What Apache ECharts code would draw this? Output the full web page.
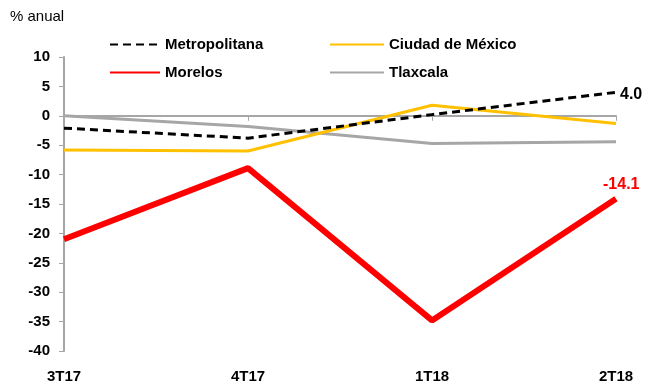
<!DOCTYPE html>
<html><head><meta charset="utf-8">
<script src="https://cdn.jsdelivr.net/npm/echarts@6/dist/echarts.min.js"></script>
<style>html,body{margin:0;padding:0;background:#fff}#c{width:648px;height:386px}</style>
</head><body><div id="c"></div>
<script>
const categories = ['3T17','4T17','1T18','2T18'];
const metropolitana = [-2.1, -3.8, 0.2, 4.0];
const cdmx = [-5.8, -6.0, 1.8, -1.3];
const morelos = [-21.0, -8.9, -34.8, -14.1];
const tlaxcala = [0.0, -1.8, -4.7, -4.4];
const yTicks = {min: -40, max: 10, interval: 5};

const FONT = "'Liberation Sans',Arial,sans-serif";
const FS = 15;
const chart = echarts.init(document.getElementById('c'), null, {renderer: 'canvas'});
const endLbl = (color, off, fs) => ({
  show: true, formatter: p => Number(p.value).toFixed(1), offset: off,
  color: color, fontFamily: FONT, fontWeight: 'bold', fontSize: fs
});
const legendText = {fontFamily: FONT, fontWeight: 'bold', fontSize: FS, color: '#000'};
const legItem = {opacity: 0};
chart.setOption({
  animation: false,
  textStyle: {fontFamily: FONT},
  graphic: [{type: 'text', left: 10, top: 9, style: {text: '% anual', font: "15px " + FONT, fill: '#000'}}],
  legend: [
    {data: ['Metropolitana'], left: 104, top: 32, itemWidth: 50, itemHeight: 14, itemGap: 10, itemStyle: legItem, textStyle: legendText},
    {data: ['Ciudad de México'], left: 324, top: 32, itemWidth: 54, itemHeight: 14, itemStyle: legItem, textStyle: legendText},
    {data: ['Morelos'], left: 104, top: 60, itemWidth: 50, itemHeight: 14, itemStyle: legItem, textStyle: legendText},
    {data: ['Tlaxcala'], left: 324, top: 60, itemWidth: 54, itemHeight: 14, itemStyle: legItem, textStyle: legendText}
  ],
  grid: {left: 64, right: 32, top: 57, bottom: 35},
  xAxis: [
    {type: 'category', data: categories, boundaryGap: false,
     axisLine: {onZero: true, lineStyle: {color: '#a6a6a6', width: 2}},
     axisTick: {show: true, inside: false, length: 5, alignWithLabel: true, lineStyle: {color: '#a6a6a6', width: 1}},
     axisLabel: {show: false}, splitLine: {show: false}},
    {type: 'category', data: categories, boundaryGap: false, position: 'bottom',
     axisLine: {show: false}, axisTick: {show: false},
     axisLabel: {show: true, color: '#000', fontFamily: FONT, fontWeight: 'bold', fontSize: FS, margin: 18}}
  ],
  yAxis: {type: 'value', min: yTicks.min, max: yTicks.max, interval: yTicks.interval,
    axisLine: {show: true, lineStyle: {color: '#a6a6a6', width: 2}},
    axisTick: {show: true, length: 5, lineStyle: {color: '#a6a6a6', width: 1}},
    splitLine: {show: false},
    axisLabel: {color: '#000', fontFamily: FONT, fontWeight: 'bold', fontSize: FS, margin: 14}},
  series: [
    {name: 'Tlaxcala', type: 'line', data: tlaxcala, symbol: 'none', z: 2,
     lineStyle: {color: '#a6a6a6', width: 3}, itemStyle: {color: '#a6a6a6'}},
    {name: 'Ciudad de México', type: 'line', data: cdmx, symbol: 'none', z: 3,
     lineStyle: {color: '#ffc000', width: 3}, itemStyle: {color: '#ffc000'}},
    {name: 'Metropolitana', type: 'line', data: metropolitana, symbol: 'none', z: 4,
     lineStyle: {color: '#000', width: 3, type: [8, 5]}, itemStyle: {color: '#000'},
     endLabel: endLbl('#000', [-4, 2], 16)},
    {name: 'Morelos', type: 'line', data: morelos, symbol: 'none', z: 5,
     lineStyle: {color: '#ff0000', width: 6}, itemStyle: {color: '#ff0000'},
     endLabel: endLbl('#ff0000', [-21, -14], 16)}
  ]
});
</script></body></html>
